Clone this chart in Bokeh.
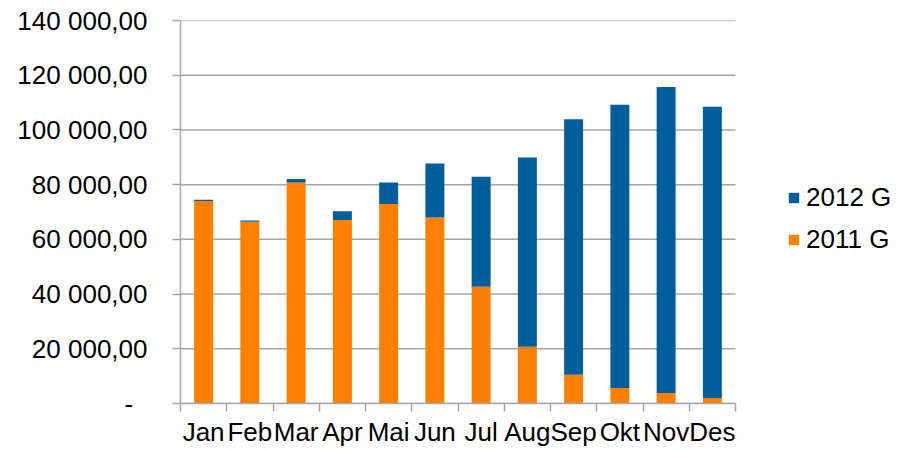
from bokeh.plotting import figure
from bokeh.models import (Range1d, FixedTicker, LinearAxis, Legend, LegendItem)
from bokeh.embed import file_html
from bokeh.resources import INLINE
import numpy as np

months = ["Jan", "Feb", "Mar", "Apr", "Mai", "Jun", "Jul", "Aug", "Sep", "Okt", "Nov", "Des"]
sales_2011 = [74000, 66400, 80800, 67100, 72900, 68000, 42700, 20700, 10500, 5700, 3800, 2000]
sales_2012 = [500, 500, 1300, 3200, 7900, 19700, 40200, 69200, 93400, 103500, 111900, 106500]
y_ticks = [0, 20000, 40000, 60000, 80000, 100000, 120000, 140000]
y_tick_labels = ["-\u00a0\u00a0", "20 000,00", "40 000,00", "60 000,00", "80 000,00",
                 "100 000,00", "120 000,00", "140 000,00"]
series_names = ["2011 G", "2012 G"]
colors = ["#FF8000", "#005E9C"]

FONT = "Liberation Sans"
GRID = "#A6A6A6"

n = len(months)
xc = np.arange(n) + 0.5
boundaries = list(range(n + 1))

W, H = 905, 449
left, top, bottom = 180, 20, 46
plot_w = 555                       # width of the category area in px
frame_w = W - left                 # frame runs to the right edge (legend lives there)
x_end = n * frame_w / plot_w

p = figure(width=W, height=H, output_backend="svg", toolbar_location=None,
           x_range=Range1d(0, x_end), y_range=Range1d(0, 140000),
           x_axis_location=None, y_axis_location=None,
           min_border_left=left, min_border_right=0, min_border_top=top,
           min_border_bottom=bottom)
p.outline_line_color = None
p.background_fill_color = "white"
p.border_fill_color = "white"
p.xgrid.visible = False
p.ygrid.visible = False

# horizontal gridlines limited to the category area
p.segment(x0=0, x1=n, y0=y_ticks, y1=y_ticks, line_color=GRID, line_width=1.5)

src = dict(x=xc, a=sales_2011, b=sales_2012)
rs = p.vbar_stack(["a", "b"], x="x", width=0.41, source=src, color=colors, line_color=None)

# y axis
yax = LinearAxis(ticker=FixedTicker(ticks=y_ticks),
                 major_label_overrides={t: l for t, l in zip(y_ticks, y_tick_labels)})
yax.axis_line_color = GRID
yax.axis_line_width = 1.5
yax.major_tick_line_color = GRID
yax.major_tick_line_width = 1.5
yax.major_tick_in = 0
yax.major_tick_out = 8
yax.minor_tick_line_color = None
yax.major_label_text_font = FONT
yax.major_label_text_font_size = "26px"
yax.major_label_text_color = "black"
yax.major_label_standoff = 25
p.add_layout(yax, "left")

# x axis: labels at centres, (minor) ticks at category boundaries
xax = LinearAxis(ticker=FixedTicker(ticks=list(xc), minor_ticks=boundaries),
                 major_label_overrides={float(c): m for c, m in zip(xc, months)},
                 bounds=(0, n))
xax.axis_line_color = GRID
xax.axis_line_width = 1.5
xax.major_tick_line_color = None
xax.major_tick_out = 0
xax.major_tick_in = 0
xax.minor_tick_line_color = GRID
xax.minor_tick_line_width = 1.5
xax.minor_tick_in = 0
xax.minor_tick_out = 8
xax.major_label_text_font = FONT
xax.major_label_text_font_size = "26px"
xax.major_label_text_color = "black"
xax.major_label_standoff = 5
p.add_layout(xax, "below")

legend = Legend(items=[LegendItem(label=series_names[1], renderers=[rs[1]]),
                       LegendItem(label=series_names[0], renderers=[rs[0]])],
                location=(607, 148))
legend.glyph_width = 13
legend.glyph_height = 13
legend.label_text_font = FONT
legend.label_text_font_size = "26px"
legend.label_text_color = "black"
legend.label_standoff = 6
legend.spacing = 11
legend.padding = 0
legend.margin = 0
legend.border_line_color = None
legend.background_fill_alpha = 0
p.add_layout(legend, "center")

open("out.html", "w").write(file_html(p, INLINE))
